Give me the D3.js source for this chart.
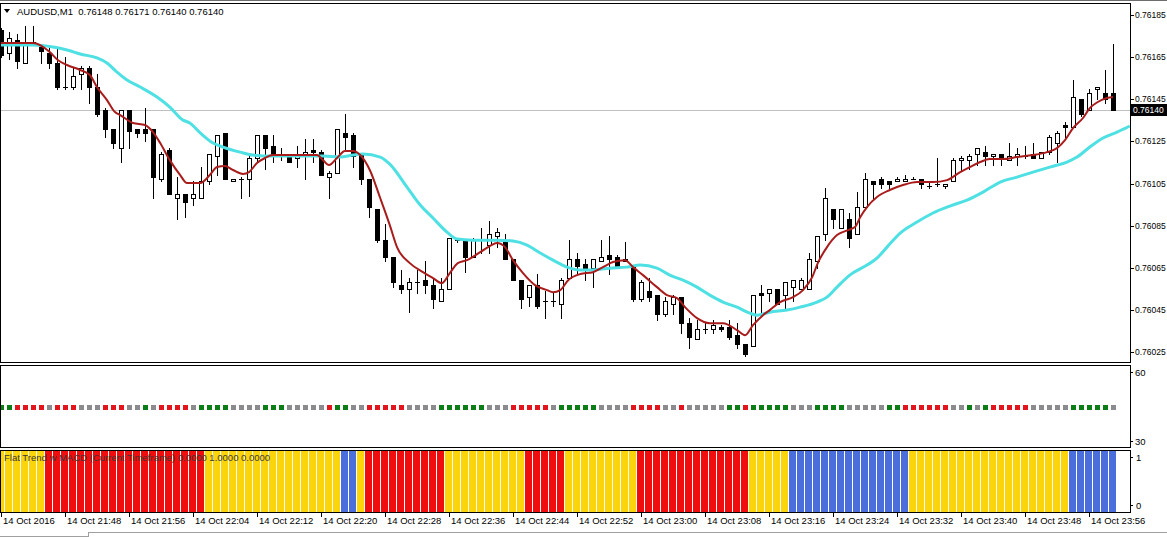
<!DOCTYPE html>
<html><head><meta charset="utf-8">
<script src="https://cdn.jsdelivr.net/npm/d3@7"></script>
<style>
body{margin:0;background:#fff;}
svg{display:block;font-family:"Liberation Sans",Arial,sans-serif;}
</style>
</head><body>
<svg id="c" width="1167" height="537"></svg>
<script>
// ---------- DATA ----------
const symbolTitle = "AUDUSD,M1";
const lastOHLC = ["0.76148","0.76171","0.76140","0.76140"];
const currentPrice = 0.76140;
const priceTicks = [0.76185,0.76165,0.76145,0.76125,0.76105,0.76085,0.76065,0.76045,0.76025];
const timeLabels = ["14 Oct 2016","14 Oct 21:48","14 Oct 21:56","14 Oct 22:04","14 Oct 22:12","14 Oct 22:20",
  "14 Oct 22:28","14 Oct 22:36","14 Oct 22:44","14 Oct 22:52","14 Oct 23:00","14 Oct 23:08",
  "14 Oct 23:16","14 Oct 23:24","14 Oct 23:32","14 Oct 23:40","14 Oct 23:48","14 Oct 23:56"];
const barsPerLabel = 8;

const openP = [
0.76178,0.76167,0.76173,0.76162,0.76171,0.76170,0.76167,0.76162,0.76151,0.76151,
0.76157,0.76160,0.76151,0.76140,0.76131,0.76122,0.76140,0.76131,0.76131,0.76131,
0.76107,0.76121,0.76098,0.76100,0.76098,0.76098,0.76106,0.76118,0.76129,0.76106,
0.76107,0.76107,0.76117,0.76128,0.76123,0.76118,0.76118,0.76117,0.76118,0.76121,
0.76120,0.76108,0.76110,0.76129,0.76128,0.76119,0.76107,0.76093,0.76078,0.76070,
0.76057,0.76055,0.76058,0.76059,0.76057,0.76049,0.76055,0.76079,0.76078,0.76070,
0.76078,0.76076,0.76080,0.76078,0.76069,0.76059,0.76051,0.76057,0.76049,0.76049,
0.76048,0.76060,0.76069,0.76067,0.76065,0.76068,0.76071,0.76070,0.76068,0.76066,
0.76050,0.76054,0.76052,0.76043,0.76048,0.76051,0.76039,0.76031,0.76036,0.76036,
0.76037,0.76037,0.76033,0.76029,0.76028,0.76053,0.76053,0.76055,0.76052,0.76056,
0.76055,0.76055,0.76068,0.76081,0.76093,0.76084,0.76088,0.76081,0.76094,0.76106,
0.76107,0.76106,0.76106,0.76106,0.76107,0.76107,0.76104,0.76105,0.76104,0.76106,
0.76116,0.76116,0.76119,0.76120,0.76118,0.76119,0.76116,0.76118,0.76118,0.76119,
0.76117,0.76120,0.76124,0.76133,0.76132,0.76145,0.76140,0.76150,0.76148,0.76148];
const highP = [
0.76179,0.76177,0.76176,0.76180,0.76180,0.76170,0.76170,0.76170,0.76165,0.76160,
0.76161,0.76161,0.76157,0.76141,0.76131,0.76140,0.76140,0.76131,0.76141,0.76131,
0.76120,0.76122,0.76108,0.76100,0.76106,0.76113,0.76119,0.76128,0.76129,0.76107,
0.76108,0.76119,0.76128,0.76128,0.76128,0.76122,0.76118,0.76123,0.76126,0.76126,
0.76121,0.76111,0.76131,0.76138,0.76129,0.76119,0.76107,0.76093,0.76086,0.76070,
0.76064,0.76060,0.76064,0.76068,0.76060,0.76060,0.76079,0.76079,0.76078,0.76079,
0.76084,0.76087,0.76084,0.76081,0.76069,0.76059,0.76057,0.76062,0.76054,0.76053,
0.76060,0.76078,0.76072,0.76069,0.76069,0.76078,0.76080,0.76071,0.76077,0.76066,
0.76059,0.76060,0.76052,0.76051,0.76052,0.76051,0.76041,0.76040,0.76039,0.76040,
0.76038,0.76040,0.76039,0.76029,0.76052,0.76057,0.76055,0.76055,0.76058,0.76059,
0.76060,0.76072,0.76080,0.76103,0.76093,0.76093,0.76091,0.76101,0.76110,0.76106,
0.76108,0.76106,0.76108,0.76109,0.76108,0.76107,0.76106,0.76117,0.76105,0.76117,
0.76118,0.76119,0.76122,0.76123,0.76119,0.76119,0.76124,0.76122,0.76123,0.76124,
0.76120,0.76128,0.76130,0.76134,0.76154,0.76145,0.76150,0.76151,0.76159,0.76171];
const lowP = [
0.76165,0.76164,0.76160,0.76162,0.76171,0.76162,0.76160,0.76150,0.76150,0.76150,
0.76150,0.76143,0.76137,0.76127,0.76122,0.76115,0.76122,0.76127,0.76125,0.76098,
0.76106,0.76100,0.76088,0.76089,0.76095,0.76098,0.76105,0.76109,0.76107,0.76106,
0.76098,0.76099,0.76115,0.76112,0.76115,0.76116,0.76115,0.76113,0.76107,0.76115,
0.76109,0.76098,0.76110,0.76121,0.76113,0.76105,0.76089,0.76077,0.76068,0.76056,
0.76053,0.76044,0.76053,0.76053,0.76046,0.76049,0.76055,0.76077,0.76063,0.76070,
0.76072,0.76072,0.76075,0.76069,0.76059,0.76046,0.76047,0.76046,0.76041,0.76047,
0.76041,0.76060,0.76062,0.76059,0.76056,0.76068,0.76062,0.76065,0.76068,0.76049,
0.76049,0.76049,0.76040,0.76042,0.76043,0.76034,0.76027,0.76031,0.76034,0.76034,
0.76035,0.76031,0.76027,0.76023,0.76028,0.76042,0.76049,0.76048,0.76045,0.76049,
0.76055,0.76055,0.76065,0.76078,0.76084,0.76084,0.76075,0.76081,0.76094,0.76098,
0.76103,0.76103,0.76106,0.76106,0.76107,0.76103,0.76103,0.76104,0.76103,0.76106,
0.76111,0.76112,0.76114,0.76114,0.76114,0.76114,0.76116,0.76114,0.76117,0.76117,
0.76117,0.76119,0.76115,0.76127,0.76132,0.76137,0.76140,0.76145,0.76143,0.76140];
const closeP = [
0.76166,0.76174,0.76163,0.76171,0.76172,0.76168,0.76162,0.76151,0.76151,0.76156,
0.76160,0.76151,0.76138,0.76131,0.76124,0.76140,0.76130,0.76129,0.76129,0.76108,
0.76119,0.76100,0.76100,0.76096,0.76100,0.76106,0.76119,0.76128,0.76107,0.76107,
0.76107,0.76117,0.76128,0.76122,0.76118,0.76118,0.76115,0.76119,0.76120,0.76120,
0.76109,0.76110,0.76131,0.76127,0.76118,0.76107,0.76094,0.76078,0.76070,0.76058,
0.76055,0.76058,0.76058,0.76057,0.76050,0.76055,0.76079,0.76078,0.76070,0.76078,
0.76078,0.76081,0.76082,0.76069,0.76059,0.76050,0.76057,0.76047,0.76049,0.76049,
0.76059,0.76069,0.76066,0.76064,0.76069,0.76070,0.76069,0.76066,0.76069,0.76050,
0.76058,0.76051,0.76043,0.76049,0.76051,0.76039,0.76032,0.76036,0.76036,0.76038,
0.76036,0.76032,0.76029,0.76024,0.76052,0.76052,0.76055,0.76048,0.76058,0.76059,
0.76059,0.76069,0.76080,0.76098,0.76088,0.76093,0.76079,0.76094,0.76107,0.76105,
0.76105,0.76105,0.76107,0.76107,0.76107,0.76105,0.76104,0.76105,0.76105,0.76116,
0.76117,0.76118,0.76122,0.76118,0.76119,0.76117,0.76118,0.76119,0.76118,0.76117,
0.76120,0.76127,0.76129,0.76132,0.76146,0.76138,0.76148,0.76151,0.76145,0.76140];

// fast moving average (dark red), read at bar positions
const fastIdx = [0,4,6.1,7.1,8.25,9.9,11.1,12,13.25,14.25,14.9,16.5,18,19,19.9,21.1,22.4,23.25,24.9,26.1,
27,28,29,30.25,31,32,33,34,36.1,38.25,39.5,40.25,41,42,43,44,44.9,46.1,47.4,48.6,
49.5,51.1,52.75,54,55.1,56.1,57.1,58.25,59.9,61.1,62,63,64,65.25,66.75,68.25,69,69.9,70.9,72.4,
74,75.25,76.5,78,79,80.25,82,83.25,84.5,85.5,87,88.6,90.25,92,93,94,95.25,96.1,97.4,99,
100.25,101.4,102.1,103.25,104.5,105.9,106.75,107.4,108.25,109.5,111.1,112.75,114.5,116.5,118.25,119.9,121.1,122.4,123.6,125.25,
127,129,130.75,132,133,134,135.25,136.1,137.1,138.25,139];
const fastVal = [0.761717,0.761717,0.761674,0.761636,0.7616125,0.761589,0.761565,0.761508,0.761446,0.761389,
0.761375,0.761337,0.7613275,0.761294,0.761242,0.761161,0.76109,0.761052,0.761052,0.76109,
0.761128,0.761133,0.761114,0.761095,0.761104,0.761147,0.761171,0.761185,0.761185,0.761185,
0.761185,0.761161,0.7611375,0.761171,0.761204,0.761204,0.761185,0.761114,0.760981,0.7608525,
0.760748,0.760672,0.760629,0.760601,0.760577,0.7606245,0.760672,0.760686,0.760724,0.760753,
0.760767,0.760748,0.760686,0.7606245,0.7605675,0.760544,0.760534,0.760544,0.760591,0.76062,
0.760629,0.760653,0.760677,0.760686,0.760653,0.760615,0.760558,0.76052,0.760506,0.760463,
0.760411,0.760387,0.760387,0.760354,0.76033,0.7603775,0.760425,0.760449,0.760487,0.7605105,
0.760544,0.7606055,0.760672,0.760748,0.760805,0.760829,0.760843,0.76089,0.760938,0.7609855,
0.761019,0.7610425,0.761057,0.761057,0.761066,0.761104,0.761128,0.761152,0.761166,0.761166,
0.7611755,0.761185,0.761199,0.761218,0.761256,0.761313,0.761361,0.761408,0.761437,0.761456,
0.7614605];
// slow moving average (aqua), read at bar positions (shifted forward past the last bar)
const slowIdx = [0,2.4,4,6.5,8.25,9.9,12,13.25,14.5,15.75,17.4,19.5,21.1,22.75,23.6,24.9,26.5,27.75,29.9,31.5,
34,36.1,38.25,40.25,42.4,44,45.25,47.4,48.6,50.75,52.4,54,55.75,57,59,62,64,65.75,67.4,69,
70.75,72.4,73.6,76.1,78.25,79.9,82,83.6,85.25,87,88.6,90.25,92,93.6,94.5,96.1,98.25,99.9,102,103.25,
104.5,106.1,108.25,109.5,110.75,112.4,114.5,116.5,118.6,120.75,122.75,124.9,127,129,131.1,133.25,134.5,136.1,137.75,139.5,141.1];
const slowVal = [0.7617075,0.7617075,0.7617075,0.761698,0.761684,0.761665,0.761646,0.761622,0.761579,0.761541,
0.761508,0.7614605,0.761413,0.761351,0.761337,0.76129,0.761242,0.761223,0.761199,0.761185,
0.76118,0.76118,0.76118,0.76118,0.7611755,0.761185,0.76119,0.7611755,0.761142,0.761033,
0.7609475,0.760886,0.760819,0.760786,0.760781,0.760781,0.7607765,0.7607575,0.76072,0.760686,
0.760653,0.760639,0.760639,0.760648,0.760653,0.7606625,0.760648,0.760615,0.760591,0.760558,
0.76052,0.760487,0.760463,0.7604345,0.760425,0.760439,0.760449,0.760463,0.760487,0.7605105,
0.760558,0.760615,0.7606625,0.760696,0.760748,0.7608145,0.760867,0.76091,0.760943,0.760971,
0.761009,0.761057,0.7610805,0.761104,0.761128,0.761152,0.7611755,0.761223,0.761266,0.761294,
0.761323];

// middle panel: signal dots (G = up, R = down, N = neutral), plotted at level 45
const dotLevel = 45;
const midTicks = [60,30];
const dotStates = ("GGRRRRNRRR"+"NNNRRRNNGN"+"RRRRNGGGGN"+"NNNGGGNNNN"+"NRGGNNRRRR"+
  "RNNNNGGGGG"+"GNNNRRRRRN"+"GGGGGNNNNR"+"RRRNNRNNNN"+"NGGRGGGGGN"+
  "NNGGGGNNNN"+"NGGRRRRRRN"+"NGNGRRRRRN"+"NNNNGGGGGN").split("");

// bottom panel: Flat Trend w MACD (Y = flat, R = down trend, B = up trend)
const flatTitle = "Flat Trend w MACD (Current Timeframe) 0.0000 1.0000 0.0000";
const botTicks = [1,0];
const trendStates = ("YYYYYYRRRR"+"RRRRRRRRRR"+"RRRRRRYYYY"+"YYYYYYYYYY"+"YYYBBYRRRR"+
  "RRRRRRYYYY"+"YYYYYYRRRR"+"RYYYYYYYYY"+"RRRRRRRRRR"+"RRRRYYYYYB"+
  "BBBBBBBBBB"+"BBBBYYYYYY"+"YYYYYYYYYY"+"YYYYBBBBBB").split("");

// ---------- LAYOUT / STYLE ----------
const W = 1167, H = 537;
const plotL = 0, plotR = 1130;
const main = {top:3, bottom:362};
const mid = {top:365, bottom:447};
const bot = {top:450, bottom:512};
const dotColor = {G:"#0b7d17", R:"#e3151c", N:"#8b8b8f"};
const trendColor = {Y:"#fcd40a", R:"#f00d0d", B:"#4a6edb"};
const fontSize = 9.5;
const axisFont = 8.5;

const svg = d3.select("#c");
svg.append("rect").attr("width",W).attr("height",H).attr("fill","#fff");

const n = openP.length;
const x = d3.scaleLinear().domain([0, 139]).range([1, 1113]);
const y = d3.scaleLinear().domain([0.76025, 0.76185]).range([352, 15]);
const yMid = d3.scaleLinear().domain([30, 60]).range([441, 372]);
const yBot = d3.scaleLinear().domain([0, 1]).range([505, 457]);

const defs = svg.append("defs");
defs.append("clipPath").attr("id","clipMain").append("rect")
  .attr("x",plotL+1).attr("y",main.top+1).attr("width",plotR-plotL-1).attr("height",main.bottom-main.top-1);
defs.append("clipPath").attr("id","clipBot").append("rect")
  .attr("x",plotL+1).attr("y",bot.top+1).attr("width",plotR-plotL-1).attr("height",bot.bottom-bot.top-1);
defs.append("clipPath").attr("id","clipMid").append("rect")
  .attr("x",plotL+1).attr("y",mid.top+1).attr("width",plotR-plotL-1).attr("height",mid.bottom-mid.top-1);

// top window line
svg.append("line").attr("x1",0).attr("x2",W).attr("y1",0.5).attr("y2",0.5).attr("stroke","#6d6d6d");

// ---------- MAIN PANEL ----------
const gMain = svg.append("g").attr("clip-path","url(#clipMain)");

// current price line
gMain.append("line").attr("x1",plotL).attr("x2",plotR)
  .attr("y1",Math.round(y(currentPrice))+0.5).attr("y2",Math.round(y(currentPrice))+0.5)
  .attr("stroke","#c0c0c0").attr("stroke-width",1);

const data = d3.range(n).map(i => ({i, o:openP[i], h:highP[i], l:lowP[i], c:closeP[i]}));
const px = i => Math.round(x(i));
const py = v => Math.round(y(v));

const gC = gMain.append("g").attr("shape-rendering","crispEdges");
// wicks
gC.selectAll("line.wick").data(data).join("line")
  .attr("x1",d=>px(d.i)+0.5).attr("x2",d=>px(d.i)+0.5)
  .attr("y1",d=>py(d.h)).attr("y2",d=>py(d.l)+1)
  .attr("stroke","#000").attr("stroke-width",1);
// bodies
gC.selectAll("rect.body").data(data.filter(d=>d.o!==d.c)).join("rect")
  .attr("x",d=>d.c>d.o ? px(d.i)-2+0.5 : px(d.i)-2)
  .attr("width",d=>d.c>d.o ? 4 : 5)
  .attr("y",d=>d.c>d.o ? py(Math.max(d.o,d.c))+0.5 : py(Math.max(d.o,d.c)))
  .attr("height",d=>{const hgt = py(Math.min(d.o,d.c))-py(Math.max(d.o,d.c)); return d.c>d.o ? Math.max(1,hgt) : Math.max(1,hgt+1);})
  .attr("fill",d=>d.c>d.o ? "#fff" : "#000")
  .attr("stroke",d=>d.c>d.o ? "#000" : "none").attr("stroke-width",1);
// dojis
gC.selectAll("line.doji").data(data.filter(d=>d.o===d.c)).join("line")
  .attr("x1",d=>px(d.i)-2).attr("x2",d=>px(d.i)+3)
  .attr("y1",d=>py(d.c)+0.5).attr("y2",d=>py(d.c)+0.5)
  .attr("stroke","#000");

// moving averages
const line = d3.line().x(d=>x(d[0])).y(d=>y(d[1])).curve(d3.curveMonotoneX);
gMain.append("path").datum(slowIdx.map((v,k)=>[v,slowVal[k]]))
  .attr("d",line).attr("fill","none").attr("stroke","#4fe0e4").attr("stroke-width",3).attr("stroke-linejoin","round");
gMain.append("path").datum(fastIdx.map((v,k)=>[v,fastVal[k]]))
  .attr("d",line).attr("fill","none").attr("stroke","#a81c1c").attr("stroke-width",2).attr("stroke-linejoin","round");

// header
svg.append("path").attr("d","M4,9 L10,9 L7,13 Z").attr("fill","#000");
svg.append("text").attr("x",17).attr("y",15).attr("font-size",fontSize).attr("fill","#000")
  .attr("xml:space","preserve").text(symbolTitle + "  " + lastOHLC.join(" "));

// price axis
const gAx = svg.append("g");
priceTicks.forEach(p=>{
  const yy = py(p);
  gAx.append("line").attr("x1",plotR).attr("x2",plotR+4).attr("y1",yy+0.5).attr("y2",yy+0.5).attr("stroke","#000").attr("shape-rendering","crispEdges");
  gAx.append("text").attr("x",plotR+5).attr("y",yy+3).attr("font-size",axisFont).attr("fill","#000")
    .text(d3.format(".5f")(p));
});
// current price tag
const cy = py(currentPrice);
gAx.append("rect").attr("x",plotR+1).attr("y",cy-6).attr("width",W-plotR-1).attr("height",12).attr("fill","#000");
gAx.append("text").attr("x",plotR+3).attr("y",cy+3).attr("font-size",axisFont).attr("fill","#fff")
  .text(d3.format(".5f")(currentPrice));

// ---------- MIDDLE PANEL ----------
const gMid = svg.append("g").attr("clip-path","url(#clipMid)").attr("shape-rendering","crispEdges");
gMid.selectAll("rect").data(dotStates).join("rect")
  .attr("x",(d,i)=>px(i)-2).attr("y",Math.round(yMid(dotLevel))-2)
  .attr("width",5).attr("height",5).attr("fill",d=>dotColor[d]);
midTicks.forEach(t=>{
  svg.append("text").attr("x",plotR+5).attr("y",yMid(t)+3.5).attr("font-size",fontSize).attr("fill","#000").text(t);
  svg.append("line").attr("x1",plotR).attr("x2",plotR+3).attr("y1",Math.round(yMid(t))+0.5).attr("y2",Math.round(yMid(t))+0.5).attr("stroke","#000");
});

// ---------- BOTTOM PANEL ----------
const gBot = svg.append("g").attr("clip-path","url(#clipBot)").attr("shape-rendering","crispEdges");
gBot.selectAll("rect").data(trendStates).join("rect")
  .attr("x",(d,i)=>px(i)-4).attr("width",7)
  .attr("y",bot.top+1).attr("height",bot.bottom-bot.top-1)
  .attr("fill",d=>trendColor[d]);
svg.append("text").attr("x",4).attr("y",461).attr("font-size",fontSize).attr("fill","#3a3a3a").text(flatTitle);
botTicks.forEach(t=>{
  svg.append("text").attr("x",plotR+6).attr("y",yBot(t)+3.5).attr("font-size",fontSize).attr("fill","#000").text(t);
  svg.append("line").attr("x1",plotR).attr("x2",plotR+3).attr("y1",Math.round(yBot(t))+0.5).attr("y2",Math.round(yBot(t))+0.5).attr("stroke","#000");
});

// ---------- PANEL FRAMES ----------
[main, mid, bot].forEach(p=>{
  svg.append("rect").attr("x",plotL+0.5).attr("y",p.top+0.5).attr("width",plotR-plotL).attr("height",p.bottom-p.top)
    .attr("fill","none").attr("stroke","#000").attr("stroke-width",1);
});

// ---------- TIME AXIS ----------
const gT = svg.append("g");
timeLabels.forEach((lab,k)=>{
  const xi = px(k*barsPerLabel);
  gT.append("line").attr("x1",xi+0.5).attr("x2",xi+0.5).attr("y1",bot.bottom).attr("y2",bot.bottom+5).attr("stroke","#000");
  gT.append("text").attr("x",xi+2).attr("y",524).attr("font-size",fontSize).attr("fill","#000").text(lab);
});

// bottom tab strip
svg.append("line").attr("x1",88).attr("x2",W).attr("y1",532.5).attr("y2",532.5).attr("stroke","#a0a0a0");
svg.append("line").attr("x1",88.5).attr("x2",88.5).attr("y1",532).attr("y2",H).attr("stroke","#a0a0a0");
svg.append("line").attr("x1",0).attr("x2",88).attr("y1",H-0.5).attr("y2",H-0.5).attr("stroke","#a0a0a0");
</script>
</body></html>
